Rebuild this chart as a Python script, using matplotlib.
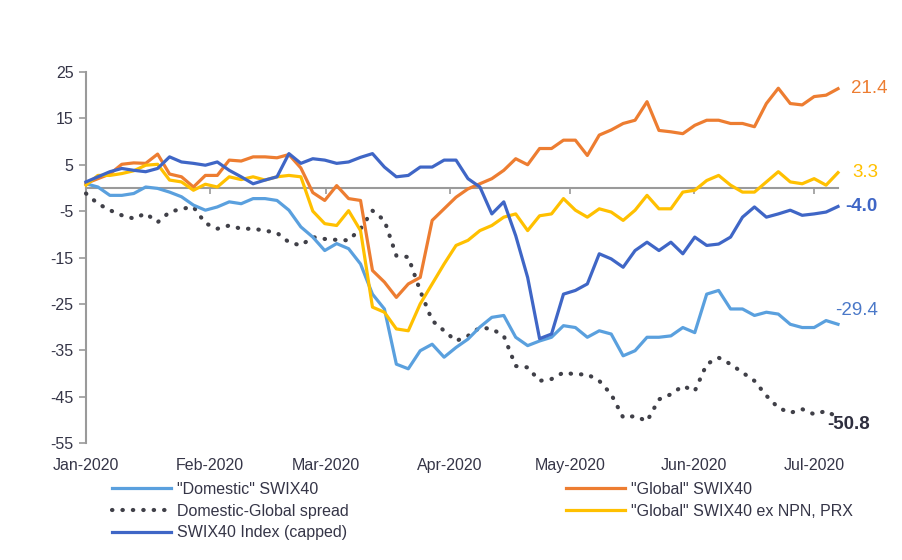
import numpy as np
import pandas as pd
import matplotlib
matplotlib.use("Agg")
import matplotlib.pyplot as plt
import matplotlib.dates as mdates

plt.rcParams['font.family'] = ['Liberation Sans', 'DejaVu Sans']

# ---------------- data ----------------
dates = pd.date_range('2020-01-01', '2020-07-07', periods=64)

domestic = [0.9, 0.2, -1.6, -1.6, -1.2, 0.2, -0.1, -0.9, -1.9, -3.7,
            -4.8, -4.1, -3.0, -3.4, -2.3, -2.3, -2.7, -4.8, -8.4, -10.6,
            -13.5, -12.0, -13.1, -16.4, -22.9, -26.1, -38.0, -39.0, -35.1, -33.7,
            -36.5, -34.4, -32.6, -30.0, -27.9, -27.5, -32.2, -34.0, -33.0, -32.2,
            -29.7, -30.1, -32.2, -30.8, -31.5, -36.2, -35.1, -32.2, -32.2, -31.9,
            -30.1, -31.2, -22.9, -22.1, -26.1, -26.1, -27.5, -26.8, -27.2, -29.4,
            -30.1, -30.1, -28.6, -29.4]

global_ = [1.0, 2.0, 3.0, 5.1, 5.4, 5.3, 7.3, 3.0, 2.4, 0.2,
           2.7, 2.7, 6.0, 5.8, 6.7, 6.7, 6.5, 7.2, 4.3, -1.0,
           -2.7, 0.5, -2.3, -2.7, -17.8, -20.3, -23.6, -20.7, -19.3, -7.0,
           -4.5, -2.0, -0.2, 0.9, 2.0, 3.8, 6.3, 5.0, 8.5, 8.5,
           10.3, 10.3, 7.0, 11.4, 12.5, 13.9, 14.6, 18.6, 12.4, 12.1,
           11.7, 13.5, 14.6, 14.6, 13.9, 13.9, 13.2, 18.2, 21.5, 18.2,
           17.9, 19.7, 20.0, 21.4]

spread = [-1.2, -3.4, -4.8, -5.9, -6.6, -5.5, -7.4, -5.2, -4.5, -4.1,
          -7.6, -8.8, -8.1, -8.8, -8.8, -9.2, -9.7, -11.7, -12.4, -10.6,
          -11.0, -11.2, -11.3, -8.8, -4.9, -7.0, -14.6, -14.9, -22.2, -28.6,
          -30.8, -33.0, -31.9, -30.1, -30.4, -31.9, -38.4, -38.7, -41.6, -41.2,
          -39.8, -40.2, -40.2, -41.6, -44.5, -49.5, -49.2, -50.3, -45.6, -44.5,
          -42.7, -43.8, -38.0, -36.6, -38.0, -39.8, -41.6, -44.8, -47.4, -48.5,
          -47.7, -48.8, -48.1, -49.5]

global_ex = [0.6, 2.7, 2.7, 3.1, 3.7, 4.9, 5.1, 1.7, 1.3, -0.5,
             0.8, 0.2, 2.4, 1.8, 2.4, 1.7, 2.4, 2.7, 2.4, -5.0,
             -7.7, -8.1, -4.9, -9.2, -25.7, -26.8, -30.4, -30.8, -25.0, -20.7,
             -16.4, -12.4, -11.3, -9.2, -8.1, -6.3, -5.6, -9.2, -6.0, -5.6,
             -2.3, -4.8, -6.3, -4.5, -5.2, -7.0, -4.8, -1.6, -4.5, -4.5,
             -0.9, -0.5, 1.6, 2.7, 0.6, -0.9, -0.9, 1.3, 3.5, 1.3,
             0.9, 2.0, 0.6, 3.3]

swix = [1.3, 2.4, 3.5, 4.2, 3.8, 3.5, 4.2, 6.7, 5.6, 5.3,
        4.9, 5.6, 3.8, 2.4, 0.9, 1.7, 2.4, 7.4, 5.3, 6.3,
        6.0, 5.3, 5.6, 6.6, 7.4, 4.5, 2.4, 2.7, 4.5, 4.5,
        6.0, 6.0, 2.0, 0.2, -5.6, -3.0, -10.3, -19.3, -32.5, -31.5,
        -22.9, -22.1, -20.7, -14.2, -15.3, -17.1, -13.5, -11.7, -13.5, -11.7,
        -14.2, -10.6, -12.4, -12.1, -10.6, -6.3, -4.1, -6.3, -5.6, -4.8,
        -5.9, -5.6, -5.2, -4.0]

end_labels = ['21.4', '3.3', '-4.0', '-29.4', '-50.8']
y_ticks = [25, 15, 5, -5, -15, -25, -35, -45, -55]
month_ticks = pd.date_range('2020-01-01', '2020-07-01', freq='MS')
month_labels = ['Jan-2020', 'Feb-2020', 'Mar-2020', 'Apr-2020', 'May-2020', 'Jun-2020', 'Jul-2020']

names = ['"Domestic" SWIX40', 'Domestic-Global spread', 'SWIX40 Index (capped)',
         '"Global" SWIX40', '"Global" SWIX40 ex NPN, PRX']

# ---------------- style ----------------
c_dom = '#5AA0DE'
c_glob = '#ED7D31'
c_ex = '#FFC000'
c_swix = '#3F66C6'
c_spread = '#404048'
txt = '#353547'
axis_gray = '#9A9A9A'

fig = plt.figure(figsize=(9.02, 5.6), dpi=100)
ax = fig.add_axes([86/902, 1-443/560, (838-86)/902, (443-72)/560])

lw = 2.3
l_spread, = ax.plot(dates, spread, color=c_spread, lw=3.0, linestyle=(0, (0.1, 2.4)),
                    dash_capstyle='round', clip_on=False, zorder=3)
l_dom, = ax.plot(dates, domestic, color=c_dom, lw=lw, clip_on=False, zorder=4)
l_glob, = ax.plot(dates, global_, color=c_glob, lw=lw, clip_on=False, zorder=5)
l_ex, = ax.plot(dates, global_ex, color=c_ex, lw=lw, clip_on=False, zorder=6)
l_swix, = ax.plot(dates, swix, color=c_swix, lw=lw, clip_on=False, zorder=7)

ax.set_xlim(pd.Timestamp('2020-01-01'), pd.Timestamp('2020-07-07'))
ax.set_ylim(-55, 25)

for s in ['top', 'right']:
    ax.spines[s].set_visible(False)
ax.spines['left'].set_color(axis_gray)
ax.spines['left'].set_linewidth(1.5)
ax.spines['bottom'].set_position(('data', 0))
ax.spines['bottom'].set_color(axis_gray)
ax.spines['bottom'].set_linewidth(1.5)
ax.spines['bottom'].set_zorder(2)

ax.set_yticks(y_ticks)
ax.set_yticklabels([str(v) for v in y_ticks])
ax.tick_params(axis='y', direction='out', length=5, width=1.2, color=axis_gray,
               labelsize=11.5, labelcolor=txt, pad=4)

ax.set_xticks(mdates.date2num(month_ticks))
ax.tick_params(axis='x', direction='out', length=4, width=1.2, color=axis_gray,
               labelbottom=False)

sec = ax.secondary_xaxis('bottom')
sec.set_xticks(mdates.date2num(month_ticks))
sec.set_xticklabels(month_labels)
sec.tick_params(axis='x', length=0, pad=11, labelsize=11.5, labelcolor=txt)
sec.spines['bottom'].set_visible(False)

# end-of-line labels
ends = [(global_, c_glob, (9, 0), 'normal'),
        (global_ex, c_ex, (10, 0), 'normal'),
        (swix, c_swix, (5, 0), 'bold'),
        (domestic, '#4A78C8', (-2, 10), 'normal'),
        (spread, '#2E2E3E', (-8, -5), 'bold')]
for (series, col, off, wt), lab in zip(ends, end_labels):
    ax.annotate(lab, xy=(dates[-1], series[-1]), xytext=off, textcoords='offset points',
                ha='left', va='center', color=col, fontsize=13.5, fontweight=wt,
                annotation_clip=False)

# legends
fs = 11.5
h1 = [l_dom, l_spread, l_swix]
h2 = [l_glob, l_ex]
fig.legend(h1, names[:3], loc='upper left', bbox_to_anchor=(112/902, 1-482/560),
           frameon=False, fontsize=fs, handlelength=3.7, handletextpad=0.35,
           labelspacing=0.42, borderpad=0, borderaxespad=0, labelcolor=txt)
fig.legend(h2, names[3:], loc='upper left', bbox_to_anchor=(566/902, 1-482/560),
           frameon=False, fontsize=fs, handlelength=3.7, handletextpad=0.35,
           labelspacing=0.42, borderpad=0, borderaxespad=0, labelcolor=txt)

fig.savefig('out.png', dpi=100, facecolor='white')
